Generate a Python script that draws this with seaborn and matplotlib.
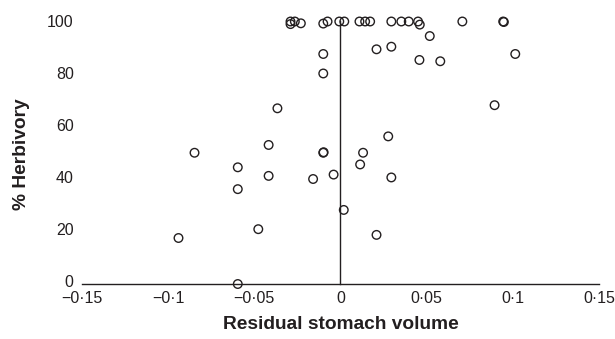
import numpy as np
import pandas as pd
import matplotlib
matplotlib.use("Agg")
import matplotlib.pyplot as plt
import seaborn as sns

## Data
residual_volume = [
    -0.029, -0.0265, -0.029, -0.023, -0.010, -0.0075, -0.0007, 0.0022,
    0.011, 0.0143, 0.0172, 0.0295, 0.0353, 0.0396, 0.045, 0.046,
    0.0707, 0.0944, 0.0948,
    -0.010, -0.010, -0.0366, 0.0518, 0.0209, 0.0295, 0.0458, 0.0579,
    0.1014, 0.0894, 0.0277, -0.0847, -0.0417, -0.010, -0.0098, 0.0131,
    0.0114, -0.0596, -0.0417, -0.0159, -0.004, -0.0596, 0.0019, -0.0477,
    -0.094, -0.0596, 0.0295, 0.0209,
]
herbivory = [
    100, 100, 99, 99.3, 99.2, 100, 100, 100,
    100, 100, 100, 100, 100, 100, 100, 98.8,
    100, 100, 99.8,
    87.5, 80, 66.6, 94.4, 89.3, 90.3, 85.2, 84.7,
    87.5, 67.8, 55.8, 49.5, 52.5, 49.5, 49.7, 49.5,
    45, 43.9, 40.6, 39.4, 41.1, 35.5, 27.5, 20.1,
    16.7, -1, 40, 17.9,
]

x_ticks = [-0.15, -0.1, -0.05, 0, 0.05, 0.1, 0.15]
x_tick_labels = ["\u22120\u00b715", "\u22120\u00b71", "\u22120\u00b705", "0",
                 "0\u00b705", "0\u00b71", "0\u00b715"]
y_ticks = [0, 20, 40, 60, 80, 100]
y_tick_labels = ["0", "20", "40", "60", "80", "100"]

df = pd.DataFrame({"volume": residual_volume, "herbivory": herbivory})

sns.set_style("white")
plt.rcParams["font.family"] = ["Liberation Sans", "DejaVu Sans"]
ink = "#231f20"

fig = plt.figure(figsize=(6.15, 3.39), dpi=100)
ax = fig.add_axes([0.1333, 0.1622, 0.8407, 0.7974])

sns.scatterplot(data=df, x="volume", y="herbivory", ax=ax,
                facecolor="none", edgecolor=ink, linewidth=1.0, s=38,
                clip_on=False, zorder=3)

ax.set_xlim(-0.15, 0.15)
ax.set_ylim(-1, 103)

# spines: x axis along bottom, y axis through zero
ax.spines["top"].set_visible(False)
ax.spines["right"].set_visible(False)
ax.spines["left"].set_position(("data", 0))
ax.spines["left"].set_bounds(-1, 100)
for side in ["left", "bottom"]:
    ax.spines[side].set_color(ink)
    ax.spines[side].set_linewidth(1.0)

ax.set_xticks(x_ticks, x_tick_labels)
ax.tick_params(axis="x", direction="in", length=4, width=0.9, color=ink,
               labelsize=11.5, labelcolor=ink, pad=5)
ax.set_yticks(y_ticks)
ax.tick_params(axis="y", direction="out", length=4, width=0.9, color=ink,
               labelleft=False)

# y tick labels sit at the left edge, away from the spine
sec = ax.secondary_yaxis("left")
sec.set_yticks(y_ticks, y_tick_labels)
sec.spines["left"].set_visible(False)
sec.tick_params(axis="y", length=0, labelsize=11.5, labelcolor=ink, pad=6)

ax.set_xlabel("Residual stomach volume", fontsize=13.8, fontweight="bold",
              color=ink, labelpad=7)
ax.set_ylabel("")
fig.text(0.035, 0.545, "% Herbivory", rotation=90, ha="center", va="center",
         fontsize=13.8, fontweight="bold", color=ink)

fig.savefig("out.png", dpi=100)
